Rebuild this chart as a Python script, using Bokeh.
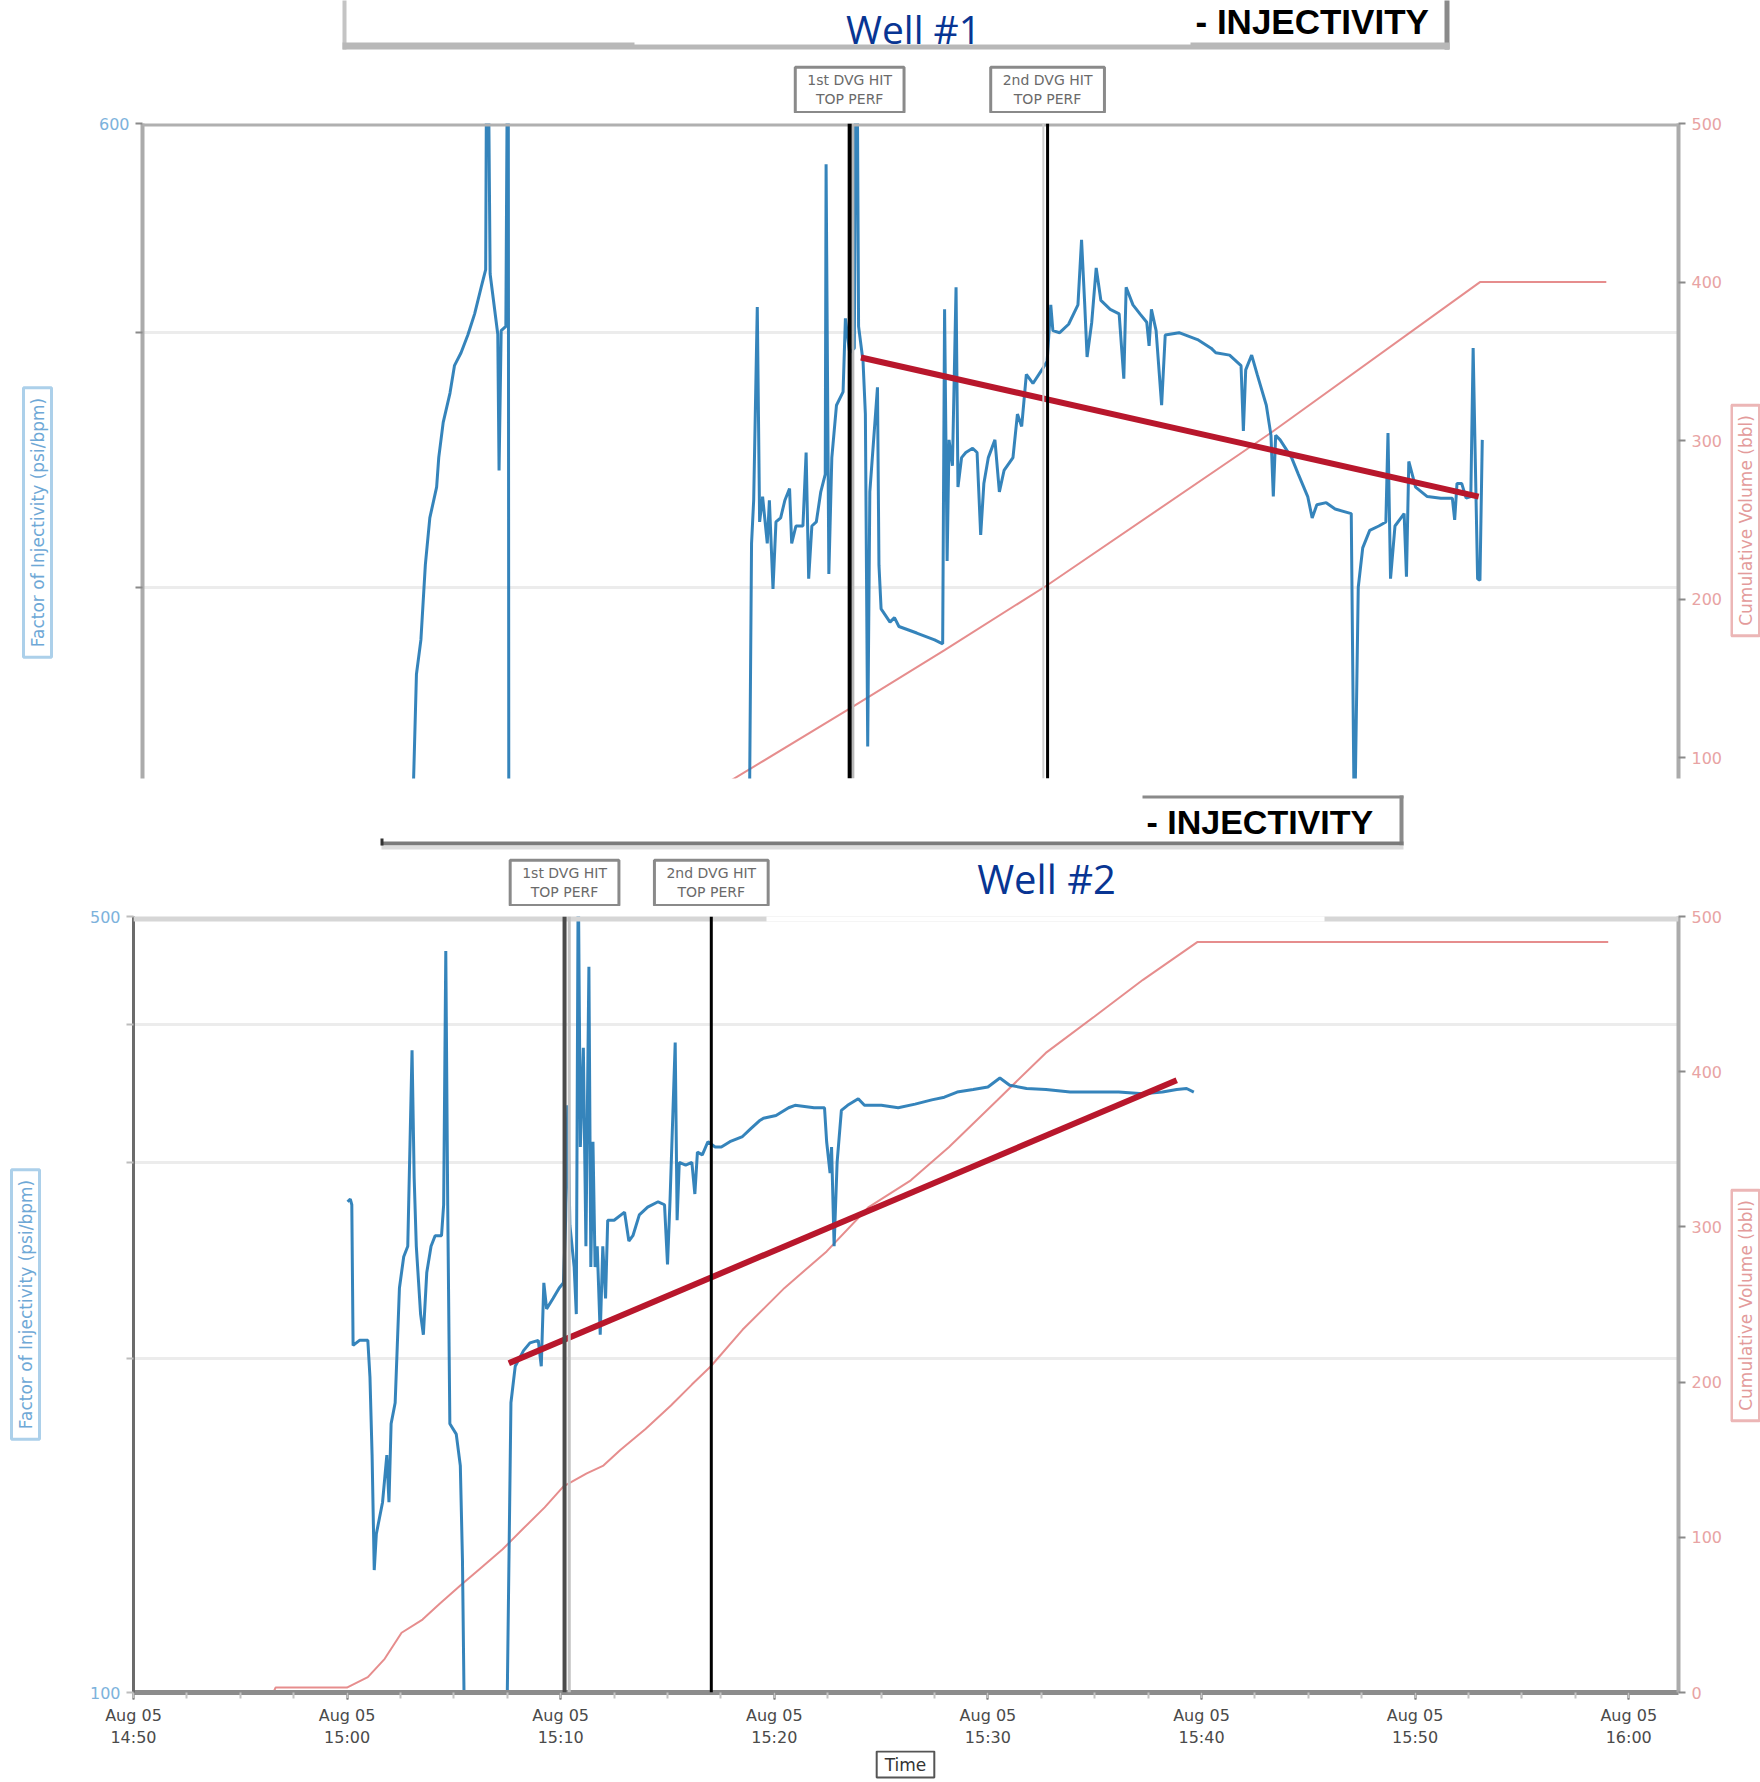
import numpy as np
import pandas as pd
from bokeh.plotting import figure
from bokeh.layouts import column, row
from bokeh.models import (Range1d, LinearAxis, LinearScale, FixedTicker, Span, Label,
                          BoxAnnotation)
from bokeh.embed import file_html
from bokeh.resources import INLINE

# ---------------------------------------------------------------- data
START = "2023-08-05 14:50:00"
X_SPAN_MIN = 72.33          # minutes shown on the time axis

# Well #1 - factor of injectivity (psi/bpm), time in minutes after 14:50
top_inj_min = [12.73, 12.90, 13.11, 13.32, 13.53, 13.85, 13.95, 14.16, 14.48, 14.69,
               15.00, 15.32, 15.64, 15.95, 16.16, 16.23, 16.37, 16.73, 16.79, 16.89,
               17.11, 17.22, 17.25,
               28.57, 28.68, 28.78, 28.95, 29.06, 29.20, 29.42, 29.52, 29.69, 29.83,
               30.05, 30.25, 30.47, 30.57, 30.77, 31.10, 31.25, 31.37, 31.52, 31.73,
               31.94, 32.15, 32.19, 32.32, 32.46, 32.68, 32.99, 33.10, 33.30, 33.52,
               33.62, 33.72, 33.93, 34.04, 34.15, 34.25, 34.46, 34.61, 34.68, 34.78,
               35.20, 35.41, 35.62, 36.46, 37.30, 37.68, 37.77, 37.89, 37.98, 38.14,
               38.31, 38.40, 38.57, 38.77, 39.09, 39.30, 39.47, 39.62, 39.83, 40.14,
               40.35, 40.57, 40.99, 41.20, 41.40, 41.62, 41.93, 42.35, 42.60, 42.77,
               42.87, 43.19, 43.61, 44.05, 44.22, 44.37, 44.48, 44.70, 44.91, 45.13,
               45.57, 45.99, 46.21, 46.32, 46.64, 46.97, 47.29, 47.40, 47.51, 47.73,
               47.99, 48.16, 48.81, 49.68, 50.32, 50.54, 51.19, 51.73, 51.84, 51.95,
               52.23, 52.49, 52.92, 53.14, 53.25, 53.36, 53.57, 54.11, 54.43, 54.87,
               55.08, 55.30, 55.74, 56.16, 56.92, 57.07, 57.25, 57.46, 57.79, 58.22,
               58.55, 58.65, 58.77, 58.98, 59.41, 59.52, 59.63, 59.95, 60.50, 61.14,
               61.68, 61.79, 61.90, 62.12, 62.33, 62.55, 62.66, 62.75, 62.87, 62.98,
               63.09]
top_inj_val = [330, 370.7, 382, 408, 425, 436.6, 448, 462, 474, 485.5,
               491, 498.7, 508, 520, 528, 720, 526, 499, 443, 500.6,
               502.5, 720, 320,
               320, 415.6, 431.6, 511, 423.5, 433, 415.6, 431.6, 399.4, 423.5,
               425, 431.6, 436, 415.6, 422, 422, 450, 403, 422, 423.5,
               434.8, 441.5, 579, 404.7, 448, 469, 474.5, 506, 491, 493,
               720, 502.5, 487.4, 465.4, 348, 434.8, 458.6, 476.4, 407.8, 392.5,
               388, 389.5, 386.5, 384.3, 382, 380.7, 510, 409.3, 455, 444.8,
               520, 436.6, 448, 450, 451.7, 450, 418.7, 438, 448, 455,
               434.8, 443, 448, 465.4, 460.4, 481.8, 478, 483.7, 487.4, 512,
               500.6, 499.7, 503.4, 512, 542, 512, 489.2, 504.3, 528.8, 514,
               510, 508, 480, 520, 512, 508, 504.3, 494, 510, 500.6,
               469, 498.7, 499.7, 496.7, 493, 491, 490, 485.5, 458.6, 483.7,
               490, 481.8, 469, 456.8, 433, 456.8, 455, 448, 441.5, 433,
               425, 429.9, 430.7, 428.3, 426.6, 320, 400, 414, 420.4, 422,
               423.5, 457.7, 403, 422, 426.6, 403.7, 446.5, 436.6, 433, 432.4,
               432.4, 424.3, 438, 438, 432.4, 433, 493, 451.7, 403, 402.4,
               455]
# Well #1 - cumulative volume (bbl)
top_cum_min = [27.0, 33.30, 37.77, 42.62, 53.14, 62.98, 68.93]
top_cum_val = [80, 131, 168, 209, 305, 400, 400]
# Well #1 - trend of injectivity
top_trend_min = [33.83, 62.92]
top_trend_val = [489, 433]
# Well #1 - DVG hits
top_dvg_min = [33.30, 42.62]
top_left_ticks = [400, 500, 600]
top_left_labels = ["", "", "600"]
top_right_ticks = [100, 200, 300, 400, 500]

# Well #2 - factor of injectivity (psi/bpm)
bot_inj_min = [10.02, 10.15, 10.22, 10.28, 10.58, 10.97, 11.07, 11.17, 11.27, 11.37,
               11.66, 11.86, 11.96, 12.06, 12.25, 12.45, 12.65, 12.84, 13.04, 13.14,
               13.24, 13.44, 13.57, 13.73, 13.93, 14.12, 14.42, 14.52, 14.62, 14.71,
               14.81, 15.11, 15.30, 15.40, 15.50,
               17.47, 17.67, 17.87, 18.26, 18.56, 18.95, 19.09, 19.21, 19.34, 19.64,
               19.93, 20.13, 20.23, 20.33, 20.43, 20.63, 20.73, 20.82, 20.92, 21.06,
               21.18, 21.32, 21.41, 21.51, 21.61, 21.71, 21.85, 21.97, 22.10, 22.20,
               22.50, 22.99, 23.19, 23.38, 23.68, 24.07, 24.56, 24.86, 25.00, 25.12,
               25.36, 25.45, 25.55, 25.85, 26.14, 26.28, 26.40, 26.63, 26.89, 27.23,
               27.52, 27.92, 28.51, 28.90, 29.30, 29.49, 30.08, 30.67, 30.97, 31.86,
               32.35, 32.45, 32.61, 32.68, 32.80, 32.94, 33.14, 33.43, 33.93, 34.22,
               35.01, 35.80, 36.59, 37.37, 37.96, 38.56, 39.31, 40.00, 40.56, 41.02,
               41.81, 42.72, 43.85, 44.99, 46.12, 47.26, 48.17, 48.84, 49.30, 49.64]
bot_inj_val = [276.7, 278.2, 275, 205.4, 207.6, 207.6, 192.4, 163.6, 128.9, 139,
               148.4, 163.6, 148.4, 174.6, 182.4, 231.4, 246.9, 252.3, 378.8, 290.5,
               252.3, 219.2, 210, 239, 252.3, 257.9, 257.9, 275, 465.4, 275,
               174.6, 170.9, 160.1, 131.8, 90,
               90, 182.4, 196.7, 203.2, 206.5, 207.6, 196.7, 233.9, 221.6, 226.4,
               231.4, 233.9, 266.3, 338, 263.6, 241.7, 219.2, 560, 310, 380.8,
               252.3, 450.6, 241.7, 313.4, 241.7, 252.3, 210, 252.3, 226.4, 266.3,
               266.3, 270.8, 255.1, 257.9, 269.3, 273.7, 276.7, 275, 243, 278.2,
               385, 266.3, 300.2, 298.5, 300.2, 281.2, 306.7, 305, 313.4, 310,
               310, 313.4, 316.8, 322, 327.3, 329, 330.9, 336.3, 338, 336.3,
               336.3, 313.4, 293.7, 310, 252.3, 300.2, 334.5, 338, 342.6, 338,
               338, 336.3, 338.8, 341.8, 343.7, 347.4, 349.3, 351.1, 357.7, 352.4,
               350, 349.3, 347.4, 347.4, 347.4, 346.2, 347.4, 349.3, 350, 347.4]
# Well #2 - cumulative volume (bbl)
bot_cum_min = [3.14, 6.55, 6.65, 9.99, 10.97, 11.76, 12.55, 13.53, 14.32, 15.30,
               16.29, 17.28, 18.26, 19.25, 20.13, 21.22, 22.00, 22.79, 23.97, 25.16,
               26.14, 27.03, 28.51, 30.48, 32.45, 34.42, 36.39, 38.18, 40.45, 42.71,
               44.99, 47.26, 49.80, 69.04]
bot_cum_val = [0, 0, 3.2, 3.2, 9.9, 21.7, 38.5, 47, 57, 68.9,
               80.6, 92.3, 105.8, 119.3, 132.8, 141.2, 146.2, 156.3, 169.8, 184.9,
               198.4, 210.2, 233.7, 260.7, 284.2, 312.8, 330, 351.5, 381.8, 412.1,
               435.6, 459.2, 483.5, 483.5]
bot_trend_min = [17.57, 48.84]
bot_trend_val = [198, 356]
bot_dvg_min = [20.18, 27.05]
bot_left_ticks = [100, 200, 300, 400, 500]
bot_left_labels = ["100", "", "", "", "500"]
bot_right_ticks = [0, 100, 200, 300, 400, 500]
bot_x_tick_min = [0, 10, 20, 30, 40, 50, 60, 70]
bot_x_tick_labels = ["Aug 05\n14:50", "Aug 05\n15:00", "Aug 05\n15:10", "Aug 05\n15:20",
                     "Aug 05\n15:30", "Aug 05\n15:40", "Aug 05\n15:50", "Aug 05\n16:00"]

dvg_labels = ["1st DVG HIT\nTOP PERF", "2nd DVG HIT\nTOP PERF"]
titles = ["Well #1", "Well #2"]
subtitle = "- INJECTIVITY"
left_label = "Factor of Injectivity (psi/bpm)"
right_label = "Cumulative Volume (bbl)"
x_label = "Time"

# ---------------------------------------------------------------- helpers
BASE = pd.Timestamp(START)
EPOCH = pd.Timestamp("1970-01-01")


def to_dt(mins):
    return (BASE + pd.to_timedelta(np.asarray(mins, dtype=float), unit="m")).to_numpy()


def to_ms(m):
    return (BASE + pd.Timedelta(minutes=float(m)) - EPOCH) / pd.Timedelta(milliseconds=1)


BLUE = "#1f77b4"
CUM = "#e07070"
TREND = "#b8172c"
NAVY = "#083593"
FONT = "DejaVu Sans"
W = 1760
LW, RW = 62, 30                # side strips holding the boxed axis titles
FRAME_R = 1678                 # right edge of both plot frames (page x)


def clean(p):
    p.outline_line_color = None
    p.background_fill_color = "white"
    p.border_fill_color = "white"
    p.grid.visible = False


def blank(width, height, xr=None, left=0, right=0):
    p = figure(width=width, height=height, output_backend="svg", toolbar_location=None,
               x_axis_location=None, y_axis_location=None,
               x_range=xr if xr is not None else Range1d(0, width),
               y_range=Range1d(0, height),
               min_border_left=left, min_border_right=right,
               min_border_top=0, min_border_bottom=0)
    clean(p)
    return p


def sbox(p, fl, fb, x0, x1, y0, y1, color):
    """filled rectangle given in page pixels; (fl, fb) = page x of frame left, page y of frame bottom"""
    p.add_layout(BoxAnnotation(left=x0 - fl, right=x1 - fl, top=fb - y0, bottom=fb - y1,
                               left_units="screen", right_units="screen",
                               top_units="screen", bottom_units="screen",
                               fill_color=color, fill_alpha=1.0, line_color=None))


def text(p, fl, fb, x, y, txt, **kw):
    p.add_layout(Label(x=x - fl, y=fb - y, x_units="screen", y_units="screen", text=txt, **kw))


def axis_title(p, fl, fb, x, y, txt, color, border):
    text(p, fl, fb, x, y, txt, angle=np.pi / 2, text_align="center", text_baseline="middle",
         text_font=FONT, text_font_size="17px", text_color=color,
         border_line_color=border, border_line_width=3,
         background_fill_color="white", background_fill_alpha=1.0, padding=(10, 4))


def dvg_box(p, fb, t, y, txt):
    p.add_layout(Label(x=to_ms(t), y=fb - y, x_units="data", y_units="screen", text=txt,
                       text_align="center", text_baseline="bottom",
                       text_font=FONT, text_font_size="14px", text_color="#6a6a6a",
                       border_line_color="#8a8a8a", border_line_width=3,
                       background_fill_color="white", background_fill_alpha=1.0,
                       padding=(12, 5)))


def make_plot(height, xr, yr, vr, left, top_b, bottom_b, x_axis):
    p = figure(width=W - LW - RW, height=height, output_backend="svg", toolbar_location=None,
               x_axis_type="datetime", y_axis_type="log",
               x_axis_location="below" if x_axis else None,
               x_range=xr, y_range=Range1d(*yr),
               min_border_left=left - LW, min_border_right=(W - RW) - FRAME_R,
               min_border_top=top_b, min_border_bottom=bottom_b)
    p.outline_line_color = None
    p.background_fill_color = "white"
    p.border_fill_color = "white"
    p.xgrid.visible = False
    p.extra_y_ranges = {"vol": Range1d(*vr)}
    p.extra_y_scales = {"vol": LinearScale()}
    return p


def style_left(ax, ticks, labels, line_color):
    ax.ticker = FixedTicker(ticks=ticks)
    ax.major_label_overrides = {float(t): l for t, l in zip(ticks, labels)}
    ax.axis_line_color = line_color
    ax.axis_line_width = 4
    ax.major_tick_line_color = "#8a8a8a"
    ax.major_tick_line_width = 2
    ax.major_tick_out = 7
    ax.major_tick_in = 0
    ax.minor_tick_line_color = None
    ax.major_label_text_color = "#7cb2dc"
    ax.major_label_text_font = FONT
    ax.major_label_text_font_size = "16px"
    ax.major_label_standoff = 6


def add_right(p, ticks):
    ax = LinearAxis(y_range_name="vol", ticker=FixedTicker(ticks=ticks))
    ax.axis_line_color = "#ababab"
    ax.axis_line_width = 4
    ax.major_tick_line_color = "#8a8a8a"
    ax.major_tick_line_width = 2
    ax.major_tick_out = 7
    ax.major_tick_in = 0
    ax.minor_tick_line_color = None
    ax.major_label_text_color = "#e8a3a3"
    ax.major_label_text_font = FONT
    ax.major_label_text_font_size = "16px"
    ax.major_label_standoff = 6
    p.add_layout(ax, "right")


# ================================================================ page rows (page y)
TH_Y0, TH_Y1 = 0, 113          # header of well 1
TP_Y1 = 785                    # plot row of well 1 : 113 .. 785
BH_Y1 = 906                    # header of well 2  : 785 .. 906
BP_Y1 = 1750                   # plot row of well 2 : 906 .. 1750
FT_Y1 = 1782                   # footer            : 1750 .. 1782

T_FL, T_FT, T_FB = 142, 123, 778     # frame of well 1 (page px)
B_FL, B_FT, B_FB = 133, 916, 1693    # frame of well 2 (page px)

top_xr = Range1d(to_ms(0), to_ms(X_SPAN_MIN))
bot_xr = Range1d(to_ms(0), to_ms(X_SPAN_MIN))

# ---------------------------------------------------------------- well 1 header
th = blank(W, TH_Y1 - TH_Y0, xr=top_xr, left=T_FL, right=W - FRAME_R)
fb = TH_Y1
sbox(th, T_FL, fb, 342, 346, -5, 49, "#c4c4c4")
sbox(th, T_FL, fb, 1444, 1449, -5, 49, "#8a8a8a")
sbox(th, T_FL, fb, 342, 1449, 42, 49, "#b8b8b8")
sbox(th, T_FL, fb, 634, 1190, 40, 44, "white")
text(th, T_FL, fb, 913, 1, titles[0], text_align="center", text_baseline="top",
     text_font="Open Sans", text_font_size="39px", text_color=NAVY)
text(th, T_FL, fb, 1195, 1, subtitle, text_align="left", text_baseline="top",
     text_font="Liberation Sans", text_font_style="bold", text_font_size="35px",
     text_color="black")
for t, txt in zip(top_dvg_min, dvg_labels):
    dvg_box(th, fb, t, 112, txt)

# ---------------------------------------------------------------- well 1 plot row
tp = make_plot(TP_Y1 - TH_Y1, top_xr, (338.4, 600), (87, 500), T_FL,
               T_FT - TH_Y1, TP_Y1 - T_FB, False)
tp.ygrid.ticker = FixedTicker(ticks=[400, 500])
tp.ygrid.grid_line_color = "#ececec"
tp.ygrid.grid_line_width = 3
style_left(tp.yaxis[0], top_left_ticks, top_left_labels, "#ababab")
add_right(tp, top_right_ticks)

tp.line(to_dt(top_cum_min), top_cum_val, y_range_name="vol", line_color=CUM,
        line_width=2, line_alpha=0.8)
tp.line(to_dt(top_inj_min), top_inj_val, line_color=BLUE, line_width=3, line_alpha=0.9)
tp.line(to_dt(top_trend_min), top_trend_val, line_color=TREND, line_width=6)

tp.add_layout(Span(location=600, dimension="width", line_color="#b0b0b0", line_width=6))
tp.add_layout(Span(location=to_ms(top_dvg_min[0] + 0.15), dimension="height",
                   line_color="#b8b8b8", line_width=3))
tp.add_layout(Span(location=to_ms(top_dvg_min[1] - 0.2), dimension="height",
                   line_color="#cfcfcf", line_width=2))
tp.add_layout(Span(location=to_ms(top_dvg_min[0]), dimension="height",
                   line_color="black", line_width=4))
tp.add_layout(Span(location=to_ms(top_dvg_min[1]), dimension="height",
                   line_color="black", line_width=3))

# side strips: their frames are aligned with the plot frame of the same row
tl = blank(LW, TP_Y1 - TH_Y1)
axis_title(tl, 0, T_FB, 37, 522, left_label, "#6ea8d6", "#acd0ea")
tr = blank(RW, TP_Y1 - TH_Y1)
axis_title(tr, W - RW, T_FB, 1745, 520, right_label, "#e39b9b", "#ecb6b6")

# ---------------------------------------------------------------- well 2 header
bh = blank(W, BH_Y1 - TP_Y1, xr=bot_xr, left=B_FL, right=W - FRAME_R)
fb = BH_Y1
sbox(bh, B_FL, fb, 1142, 1403, 795, 798, "#8a8a8a")
sbox(bh, B_FL, fb, 1399, 1403, 795, 845, "#8a8a8a")
sbox(bh, B_FL, fb, 381, 1403, 841, 845, "#7a7a7a")
sbox(bh, B_FL, fb, 381, 1403, 845, 849, "#dcdcdc")
sbox(bh, B_FL, fb, 380, 383, 838, 845, "#333333")
text(bh, B_FL, fb, 1146, 821, subtitle, text_align="left", text_baseline="alphabetic",
     text_font="Liberation Sans", text_font_style="bold", text_font_size="34px",
     text_color="black")
text(bh, B_FL, fb, 1046, 905, titles[1], text_align="center", text_baseline="bottom",
     text_font="Open Sans", text_font_size="40px", text_color=NAVY)
for t, txt in zip(bot_dvg_min, dvg_labels):
    dvg_box(bh, fb, t, 905, txt)

# ---------------------------------------------------------------- well 2 plot row
bp = make_plot(BP_Y1 - BH_Y1, bot_xr, (100, 500), (0, 500), B_FL,
               B_FT - BH_Y1, BP_Y1 - B_FB, True)
bp.ygrid.ticker = FixedTicker(ticks=[200, 300, 400])
bp.ygrid.grid_line_color = "#ececec"
bp.ygrid.grid_line_width = 3
style_left(bp.yaxis[0], bot_left_ticks, bot_left_labels, "#6b6b6b")
bp.yaxis[0].axis_line_width = 3
bp.yaxis[0].major_tick_line_color = "#bdbdbd"
add_right(bp, bot_right_ticks)

xt = [to_ms(m) for m in bot_x_tick_min]
minor = [to_ms(m) for m in np.arange(0, X_SPAN_MIN, 2.5)]
xa = bp.xaxis[0]
xa.ticker = FixedTicker(ticks=xt, minor_ticks=minor)
xa.major_label_overrides = {t: l for t, l in zip(xt, bot_x_tick_labels)}
xa.axis_line_color = "#8c8c8c"
xa.axis_line_width = 5
xa.major_tick_line_color = "#444444"
xa.major_tick_line_width = 2
xa.major_tick_out = 7
xa.major_tick_in = 0
xa.minor_tick_line_color = "#c4c4c4"
xa.minor_tick_line_width = 2
xa.minor_tick_out = 6
xa.minor_tick_in = 0
xa.major_label_text_color = "#4a4a4a"
xa.major_label_text_font = FONT
xa.major_label_text_font_size = "16px"
xa.major_label_standoff = 6

bp.line(to_dt(bot_cum_min), bot_cum_val, y_range_name="vol", line_color=CUM,
        line_width=2, line_alpha=0.8)
bp.line(to_dt(bot_inj_min), bot_inj_val, line_color=BLUE, line_width=3, line_alpha=0.9)
bp.line(to_dt(bot_trend_min), bot_trend_val, line_color=TREND, line_width=6)

bp.add_layout(Span(location=500, dimension="width", line_color="#d6d6d6", line_width=10))
sbox(bp, B_FL, B_FB, 766, 1324, B_FT - 8, B_FT + 6, "white")
bp.add_layout(Span(location=to_ms(bot_dvg_min[0] + 0.22), dimension="height",
                   line_color="#c2c2c2", line_width=3))
bp.add_layout(Span(location=to_ms(bot_dvg_min[0]), dimension="height",
                   line_color="#4a4a4a", line_width=4))
bp.add_layout(Span(location=to_ms(bot_dvg_min[1]), dimension="height",
                   line_color="black", line_width=3))

bl = blank(LW, BP_Y1 - BH_Y1)
axis_title(bl, 0, B_FB, 25, 1305, left_label, "#6ea8d6", "#acd0ea")
br = blank(RW, BP_Y1 - BH_Y1)
axis_title(br, W - RW, B_FB, 1745, 1306, right_label, "#e39b9b", "#ecb6b6")

# ---------------------------------------------------------------- footer
ft = blank(W, FT_Y1 - BP_Y1)
text(ft, 0, FT_Y1, 905, 1764, x_label, text_align="center", text_baseline="middle",
     text_font=FONT, text_font_size="17px", text_color="#333333",
     border_line_color="#555555", border_line_width=2,
     background_fill_color="white", background_fill_alpha=1.0, padding=(8, 3))

layout = column(row(th), row(tl, tp, tr, spacing=0), row(bh),
                row(bl, bp, br, spacing=0), row(ft), spacing=0)
open("out.html", "w").write(file_html(layout, INLINE))
